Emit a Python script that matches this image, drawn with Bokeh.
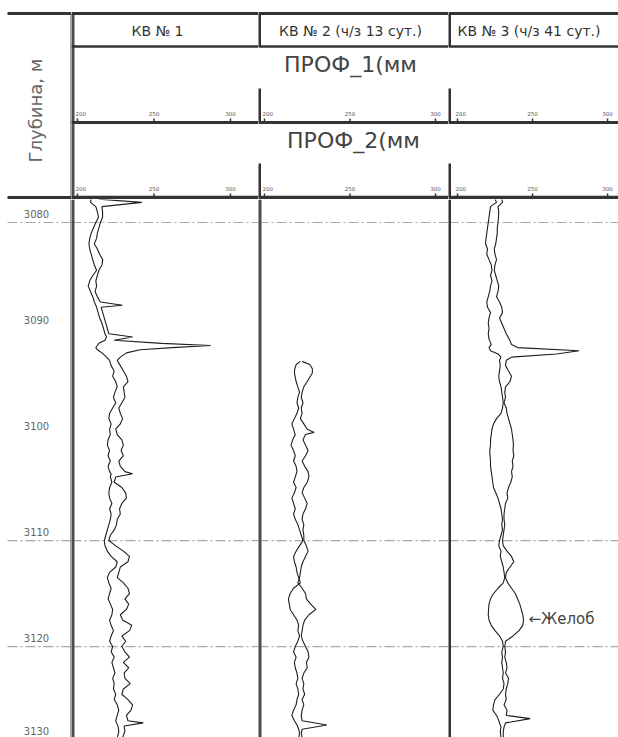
import math
from bokeh.plotting import figure
from bokeh.layouts import row, column
from bokeh.models import Range1d, Span
from bokeh.core.properties import value
from bokeh.embed import file_html
from bokeh.resources import INLINE

# ---------------- texts / ticks ----------------
DEPTH_LABEL = "Глубина, м"
TRACK_TITLES = ["КВ № 1", "КВ № 2 (ч/з 13 сут.)", "КВ № 3 (ч/з 41 сут.)"]
CURVE_TITLES = ["ПРОФ_1(мм", "ПРОФ_2(мм"]
DEPTH_TICKS = [3080, 3090, 3100, 3110, 3120, 3130]
GRID_DEPTHS = [3080, 3110, 3120]
SCALE_TICKS = [200, 250, 300]
ANNOT_TEXT = "←Желоб"
ANNOT_DEPTH = 3117.4
ANNOT_VALUE = 247.3

# ---------------- data: КВ № 1 ----------------
T1_DEPTH = [3077.8, 3078.1, 3078.5, 3079.0, 3079.5, 3080.0, 3080.5, 3081.0, 3081.5, 3082.0,
            3082.5, 3083.0, 3083.5, 3084.0, 3084.5, 3085.0, 3085.5, 3086.0, 3086.5, 3087.0,
            3087.5, 3087.8, 3088.0, 3088.5, 3089.0, 3089.5, 3090.0, 3090.5, 3090.8, 3091.1,
            3091.4, 3091.6, 3091.8, 3092.0, 3092.3, 3092.7, 3093.0, 3093.5, 3094.0, 3094.5,
            3095.0, 3095.5, 3096.0, 3096.5, 3097.0, 3097.5, 3098.0, 3098.5, 3099.0, 3099.5,
            3100.0, 3100.5, 3101.0, 3101.5, 3102.0, 3102.5, 3103.0, 3103.5, 3103.7, 3104.0,
            3104.5, 3105.0, 3105.5, 3106.0, 3106.5, 3107.0, 3107.5, 3108.0, 3108.5, 3109.0,
            3109.5, 3110.0, 3110.5, 3111.0, 3111.5, 3112.0, 3112.5, 3113.0, 3113.5, 3114.0,
            3114.5, 3115.0, 3115.5, 3116.0, 3116.5, 3117.0, 3117.5, 3118.0, 3118.5, 3119.0,
            3119.5, 3120.0, 3120.5, 3121.0, 3121.5, 3122.0, 3122.5, 3123.0, 3123.5, 3124.0,
            3124.5, 3125.0, 3125.5, 3126.0, 3126.5, 3127.0, 3127.2, 3127.5, 3128.0, 3128.6]
T1_PROF1 = [209, 208.5, 212, 213, 213.7, 212, 210.5, 209, 208, 207.5,
            208, 209, 210, 211, 212.5, 210, 208, 207, 208.5, 210,
            211, 212, 212.5, 213.5, 214.5, 216, 217, 218, 219, 218,
            214, 213, 212, 213, 216, 219, 221, 222, 224, 223,
            225, 226, 224.5, 223.5, 225, 223, 221, 220.5, 222, 221,
            221.5, 220, 219.5, 221, 220, 221.5, 220, 221, 222, 221.5,
            222.5, 221, 220.5, 221, 222.5, 221, 222, 221.5, 220.5, 219.5,
            218.5, 217.5, 218, 219.5, 222, 226, 225, 221, 219.5, 220.5,
            222, 221, 220, 221.5, 223, 222.5, 221, 222, 223.5, 222,
            221, 223, 222, 224, 222.5, 223.5, 224.5, 223, 224, 223.5,
            225, 224, 226, 227, 226, 225, 225.5, 226.5, 227, 226]
T1_PROF2 = [214, 242, 216, 216.4, 216.4, 215, 214, 213, 212.5, 211,
            213, 214.5, 216.5, 216, 214, 213, 212, 212.5, 211.5, 213,
            215, 229.4, 215.5, 216.5, 217.5, 218.5, 219.5, 220.5, 236, 224,
            255, 287, 262, 241, 232, 228, 226, 228, 230, 232,
            233, 230, 230.5, 231, 229, 227, 228, 229.5, 228, 225,
            226, 229, 230, 228.5, 230, 227, 228, 231, 236, 225,
            224, 229, 231.5, 232, 229, 227.5, 228, 226, 225.5, 224,
            221.5, 220.5, 225, 230, 234, 233, 228, 227, 226, 230,
            233, 234, 231, 233.5, 232, 228, 229.5, 235.5, 234, 229,
            231.5, 229, 231, 234, 230, 233.5, 230.5, 231, 234.5, 230,
            229, 233, 236, 235, 232, 233, 243, 230.5, 231, 229.5]

# ---------------- data: КВ № 2 ----------------
T2_DEPTH = [3093.1, 3093.4, 3093.8, 3094.2, 3094.6, 3095.0, 3095.5, 3096.0, 3096.5, 3097.0,
            3097.5, 3098.0, 3098.5, 3099.0, 3099.5, 3099.8, 3100.0, 3100.5, 3101.0, 3101.5,
            3102.0, 3102.5, 3103.0, 3103.5, 3104.0, 3104.5, 3105.0, 3105.5, 3106.0, 3106.5,
            3107.0, 3107.5, 3108.0, 3108.5, 3109.0, 3109.5, 3110.0, 3110.5, 3111.0, 3111.5,
            3112.0, 3112.5, 3113.0, 3113.5, 3114.0, 3114.5, 3115.0, 3115.5, 3116.0, 3116.5,
            3117.0, 3117.5, 3118.0, 3118.5, 3119.0, 3119.5, 3120.0, 3120.5, 3121.0, 3121.5,
            3122.0, 3122.5, 3123.0, 3123.5, 3124.0, 3124.5, 3125.0, 3125.5, 3126.0, 3126.5,
            3127.0, 3127.4, 3127.8, 3128.2, 3128.6]
T2_PROF1 = [221, 218.5, 217.7, 217.5, 218, 218.5, 219.5, 220.5, 219.5, 219,
            220, 219, 217.5, 216, 217, 217.5, 218, 216.5, 215.5, 217,
            218, 217, 218.5, 219, 218, 217, 218.5, 217.5, 216, 217,
            218, 217, 218, 219.5, 220.5, 221.5, 222.5, 220.5, 218.5, 217,
            217.5, 218.5, 219, 220, 221, 217, 215, 214, 214.5, 215,
            217, 219, 220, 219.5, 220.5, 219.5, 218, 217, 218.5, 217.5,
            218, 219, 219.5, 218.5, 219.5, 220, 219, 218.5, 217, 216,
            217.5, 219, 220, 220.5, 220]
T2_PROF2 = [222, 226.5, 228, 228, 226.5, 225, 223, 222, 221.5, 222.5,
            221.5, 222, 221, 223, 225, 229, 224, 222.5, 224, 225.5,
            224, 222, 223.5, 225.5, 226, 225, 223, 222, 223.5, 225,
            224, 222.5, 222, 223, 222.5, 223, 223, 224.5, 225.5, 224,
            222.5, 221.5, 221, 220.5, 219.5, 222, 224, 224.5, 227, 230,
            226, 223.5, 222.5, 222, 221.5, 222.5, 224, 225.5, 226, 224.5,
            225, 223, 222, 223, 222.5, 223.5, 222, 223, 222, 221.5,
            222, 236.5, 222, 221.5, 222]

# ---------------- data: КВ № 3 ----------------
T3_DEPTH = [3077.8, 3078.1, 3078.5, 3079.0, 3079.5, 3080.0, 3080.5, 3081.0, 3081.5, 3082.0,
            3082.5, 3083.0, 3083.5, 3084.0, 3084.5, 3085.0, 3085.5, 3086.0, 3086.5, 3087.0,
            3087.5, 3088.0, 3088.5, 3089.0, 3089.5, 3090.0, 3090.5, 3091.0, 3091.5, 3091.8,
            3092.1, 3092.4, 3092.7, 3093.0, 3093.5, 3094.0, 3094.5, 3095.0, 3095.5, 3096.0,
            3096.5, 3097.0, 3097.5, 3098.0, 3098.5, 3099.0, 3099.5, 3100.0, 3100.5, 3101.0,
            3101.5, 3102.0, 3102.5, 3103.0, 3103.5, 3104.0, 3104.5, 3105.0, 3105.5, 3106.0,
            3106.5, 3107.0, 3107.5, 3108.0, 3108.5, 3109.0, 3109.5, 3110.0, 3110.5, 3111.0,
            3111.5, 3112.0, 3112.5, 3113.0, 3113.5, 3114.0, 3114.5, 3115.0, 3115.5, 3116.0,
            3116.5, 3117.0, 3117.5, 3118.0, 3118.5, 3119.0, 3119.5, 3120.0, 3120.5, 3121.0,
            3121.5, 3122.0, 3122.5, 3123.0, 3123.5, 3124.0, 3124.5, 3125.0, 3125.5, 3126.0,
            3126.5, 3126.8, 3127.2, 3127.6, 3128.0, 3128.6]
T3_PROF1 = [225, 226, 222, 221.5, 221, 220.5, 220, 219.5, 219, 218.7,
            220, 219.5, 221, 222.5, 223, 222, 223, 222, 221.5, 220.5,
            219.5, 220, 222, 221, 220.5, 221, 220.5, 221, 222.5, 221,
            222, 227, 229, 228, 228.5, 228, 227.5, 228, 229, 229.5,
            230, 230.5, 230, 229, 226, 224, 223, 222.5, 222, 222,
            221.5, 221.7, 222, 222, 222.5, 223, 223.5, 224, 225.5, 227,
            228, 229, 229.5, 230, 229.5, 230, 229, 228, 227.5, 229,
            228.5, 229.5, 230.5, 231, 231.5, 230.5, 227, 224, 222, 221,
            220.7, 220.5, 221, 222.5, 225, 228, 230, 230.5, 229.5, 230,
            229.5, 230, 230.5, 230, 231, 230.5, 228, 225, 224, 223.5,
            226, 227, 228, 229, 228.5, 229]
T3_PROF2 = [229.5, 230, 227, 227.5, 227.3, 227, 226.5, 226.5, 226, 225.5,
            224.5, 225, 226, 225, 224.5, 225.5, 226.5, 227.5, 227, 226,
            228, 229.5, 230, 228, 229.5, 231, 232.5, 234.5, 236, 240,
            281, 266, 236, 232.5, 232, 234, 236, 235, 232, 231.5,
            232, 231, 232.5, 233, 234, 235, 236, 236.5, 237, 237.3,
            237, 237.5, 236.5, 237, 236, 236.5, 235.5, 234, 233, 233.5,
            232, 231.5, 231, 231, 231.5, 231, 230.5, 230, 230.5, 233,
            236, 237.5, 235, 232.5, 232, 233.5, 236, 238.5, 240, 241.5,
            242.5, 243.5, 244, 243.5, 241, 237, 232, 231.5, 232, 231.5,
            232.5, 233, 232, 234, 233.5, 232.5, 232, 232.5, 231, 233,
            232.5, 248.5, 232, 231, 230.5, 230.5]

TRACKS = [(T1_DEPTH, T1_PROF1, T1_PROF2),
          (T2_DEPTH, T2_PROF1, T2_PROF2),
          (T3_DEPTH, T3_PROF1, T3_PROF2)]

# ---------------- layout / scales ----------------
W_DEPTH = 71
TRACK_W = [187, 190, 170]
H_HEAD = 199
H_DATA = 538
X_RANGES = [(196.1, 318.3), (196.5, 307.6), (194.0, 307.3)]
D_TOP, D_BOTTOM = 3077.83, 3128.58

FONT = value("DejaVu Sans")
LINE_C = "#333333"
SEP_C = "#4d4d4d"
CURVE_C = "#1e1e1e"
GRID_C = "#a9a9a9"
GRID_DASH = "10 3 2 3"


def base_fig(w, h, x_range, y_range):
    p = figure(width=w, height=h, x_range=x_range, y_range=y_range,
               x_axis_type=None, y_axis_type=None, toolbar_location=None,
               output_backend="svg", min_border=0, title=None)
    p.outline_line_color = None
    p.background_fill_color = "white"
    p.border_fill_color = "white"
    return p


# ---- depth column ----
dh = base_fig(W_DEPTH, H_HEAD, Range1d(0, W_DEPTH), Range1d(H_HEAD, 0))
dh.segment(x0=[7, 7], x1=[W_DEPTH, W_DEPTH], y0=[13, 197], y1=[13, 197],
           line_color=LINE_C, line_width=3)
dh.segment(x0=[W_DEPTH], x1=[W_DEPTH], y0=[13], y1=[H_HEAD], line_color=SEP_C, line_width=2)
dh.text(x=[35], y=[110], text=[DEPTH_LABEL], angle=math.pi / 2,
        text_font=FONT, text_font_size="18px", text_color="#666666",
        text_align="center", text_baseline="middle")

dd = base_fig(W_DEPTH, H_DATA, Range1d(0, W_DEPTH), Range1d(D_BOTTOM, D_TOP))
dd.segment(x0=[7] * len(GRID_DEPTHS), x1=[W_DEPTH] * len(GRID_DEPTHS),
           y0=GRID_DEPTHS, y1=GRID_DEPTHS, line_color=GRID_C, line_width=1.2,
           line_dash=GRID_DASH)
dd.add_layout(Span(location=W_DEPTH, dimension="height", line_color=SEP_C, line_width=2))
px_per_m = H_DATA / (D_BOTTOM - D_TOP)
label_offsets = [min(-9.0, H_DATA - 7 - (t - D_TOP) * px_per_m) for t in DEPTH_TICKS]
dd.text(x=[36] * len(DEPTH_TICKS), y=DEPTH_TICKS, text=[str(t) for t in DEPTH_TICKS],
        y_offset=label_offsets, text_font=FONT, text_font_size="10px", text_color="#666666",
        text_align="center", text_baseline="middle")

columns = [column(dh, dd, spacing=0)]

# ---- tracks ----
TITLE_X = [86, 92, 9]
TITLE_ALIGN = ["center", "center", "left"]
for i, (w, xr) in enumerate(zip(TRACK_W, X_RANGES)):
    hp = base_fig(w, H_HEAD, Range1d(0, w), Range1d(H_HEAD, 0))
    hp.extra_x_ranges = {"val": Range1d(*xr)}
    for yy, lw in [(13, 3), (46, 2.5), (122, 3), (197, 3.5)]:
        hp.add_layout(Span(location=yy, dimension="width", line_color=LINE_C, line_width=lw))
    if i == 0:
        hp.segment(x0=[0], x1=[0], y0=[13], y1=[H_HEAD], line_color=SEP_C, line_width=6)
    else:
        hp.segment(x0=[0, 0, 0], x1=[0, 0, 0], y0=[13, 88, 163], y1=[46, 122, 197],
                   line_color=LINE_C, line_width=5)
    hp.text(x=[TITLE_X[i]], y=[30], text=[TRACK_TITLES[i]], text_font=FONT,
            text_font_size="14px", text_color="#333333",
            text_align=TITLE_ALIGN[i], text_baseline="middle")
    # scale labels + ticks for both curve rows
    for yl, yline in [(113, 122), (188, 197)]:
        hp.text(x=SCALE_TICKS[:1], y=[yl], text=[str(SCALE_TICKS[0])],
                x_range_name="val", x_offset=-2, text_font=FONT, text_font_size="5.5px",
                text_color="#555555", text_align="left", text_baseline="middle")
        hp.text(x=SCALE_TICKS[1:], y=[yl] * (len(SCALE_TICKS) - 1),
                text=[str(t) for t in SCALE_TICKS[1:]],
                x_range_name="val", text_font=FONT, text_font_size="5.5px",
                text_color="#555555", text_align="center", text_baseline="middle")
        hp.segment(x0=SCALE_TICKS, x1=SCALE_TICKS, y0=[yline - 4] * len(SCALE_TICKS),
                   y1=[yline] * len(SCALE_TICKS), x_range_name="val",
                   line_color=LINE_C, line_width=1.5)
    if i == 1:
        hp.text(x=[92, 95], y=[64, 140], text=CURVE_TITLES, text_font=FONT,
                text_font_size="22px", text_color="#444444",
                text_align="center", text_baseline="middle")

    dp = base_fig(w, H_DATA, Range1d(*xr), Range1d(D_BOTTOM, D_TOP))
    for d in GRID_DEPTHS:
        dp.add_layout(Span(location=d, dimension="width", line_color=GRID_C,
                           line_width=1.2, line_dash=GRID_DASH, level="underlay"))
    dp.add_layout(Span(location=xr[0], dimension="height",
                       line_color=SEP_C if i < 2 else LINE_C, line_width=6 if i < 2 else 5))
    depth, p1, p2 = TRACKS[i]
    dp.line(x=p1, y=depth, line_color=CURVE_C, line_width=1.1)
    dp.line(x=p2, y=depth, line_color=CURVE_C, line_width=1.1)
    if i == 2:
        dp.text(x=[ANNOT_VALUE], y=[ANNOT_DEPTH], text=[ANNOT_TEXT], text_font=FONT,
                text_font_size="15px", text_color="#444444",
                text_align="left", text_baseline="middle")
    columns.append(column(hp, dp, spacing=0))

layout = row(*columns, spacing=0)

open("out.html", "w").write(file_html(layout, INLINE))
